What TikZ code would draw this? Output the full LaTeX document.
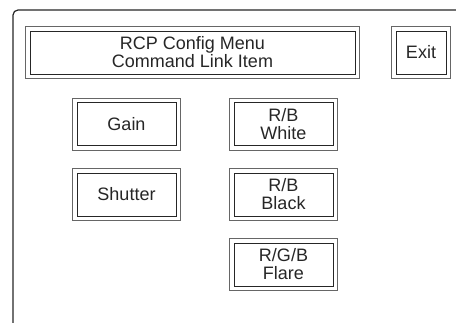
\documentclass[tikz,border=0pt]{standalone}
\usepackage{fontspec}
\setmainfont{Liberation Sans}
\usetikzlibrary{fit}
\begin{document}
\begin{tikzpicture}[x=1pt,y=-1pt,
  btn/.style={draw=black!85, line width=0.95pt, inner sep=0pt, align=center,
    minimum width=99pt, minimum height=43pt,
    font=\fontsize{18}{18}\selectfont, text=black!85},
  rim/.style={draw=black!60, line width=0.6pt, inner sep=4pt},
  panel/.style={draw=black!85, line width=1.2pt, rounded corners=5pt}]
\useasboundingbox (0,0) rectangle (456,323);
\coordinate (pb) at (13,323);
\coordinate (pc) at (13,10);
\coordinate (pe) at (456,10);
\draw[panel] (pb) -- (pc) -- (pe);
\node[btn, minimum width=325pt] (title) at (192.5,52.5) {RCP Config Menu\\Command Link Item};
\node[btn, minimum width=50pt] (exit) at (421,52.5) {Exit};
\node[btn] (gain) at (126.5,124) {Gain};
\node[btn] (white) at (283.5,124) {R/B\\White};
\node[btn] (shutter) at (126.5,194.5) {Shutter};
\node[btn] (black) at (283.5,194.5) {R/B\\Black};
\node[btn] (flare) at (283.5,264.5) {R/G/B\\Flare};
\foreach \n in {title,exit,gain,white,shutter,black,flare}
  \node[rim, fit=(\n)] (\n rim) {};
\end{tikzpicture}
\end{document}
